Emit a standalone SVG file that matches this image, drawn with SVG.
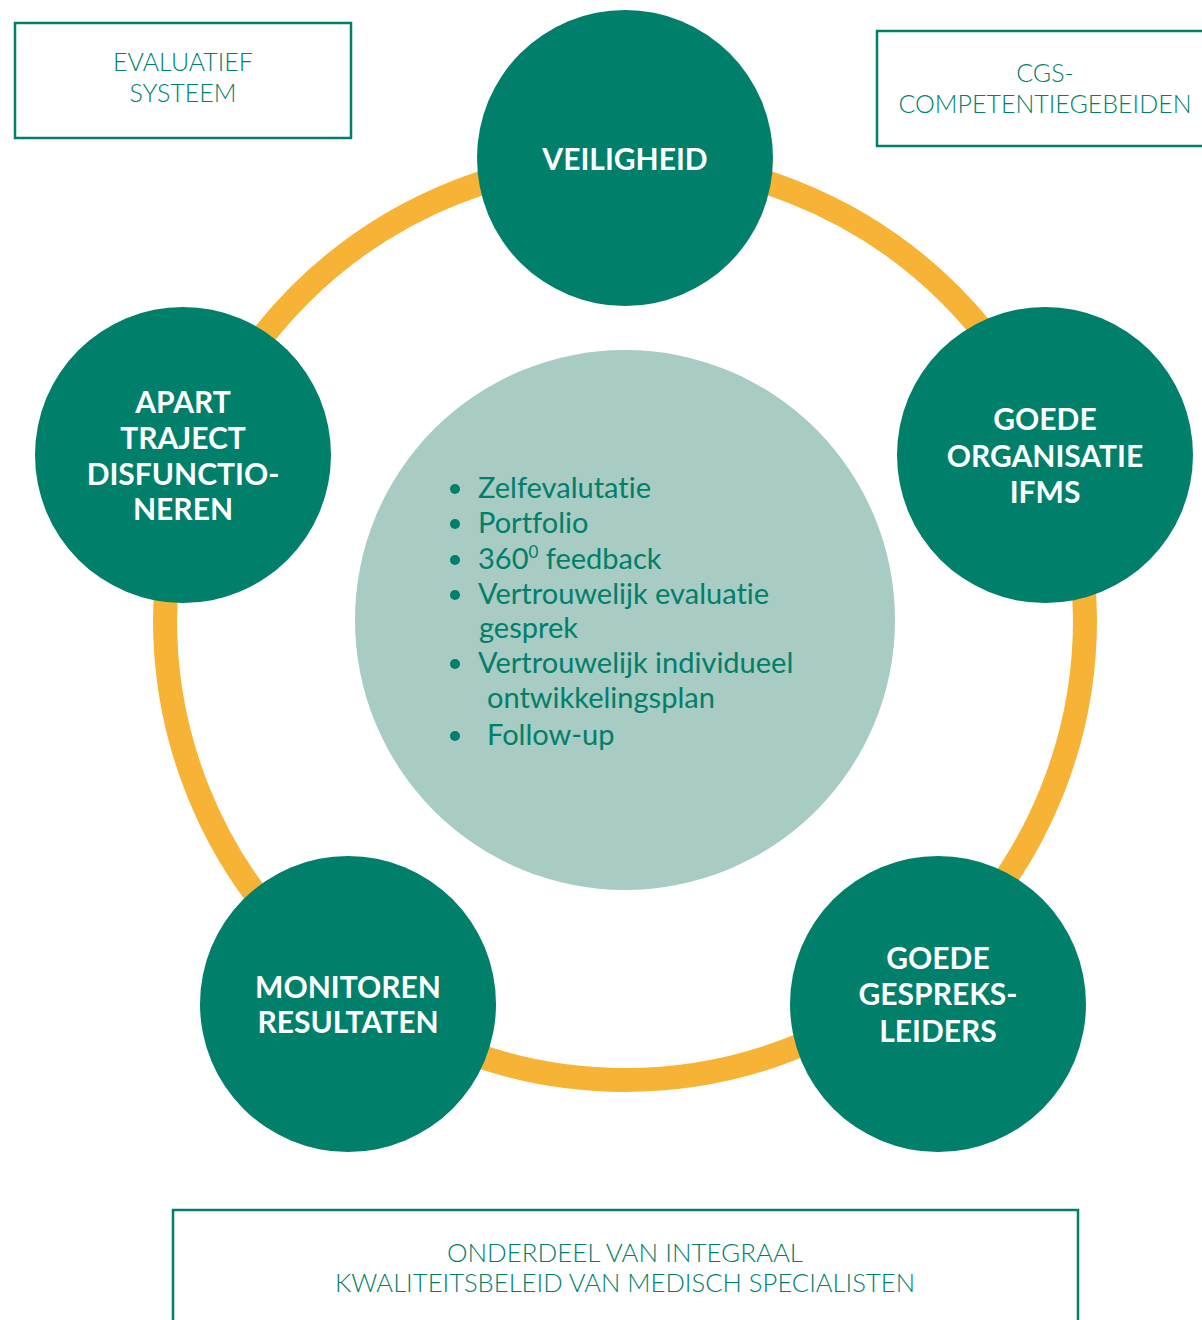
<svg xmlns="http://www.w3.org/2000/svg" width="1202" height="1320" viewBox="0 0 1202 1320">
<style>
.node{fill:#007f6a}
.lbl{font-family:Lato,"Noto Sans","Liberation Sans",sans-serif;font-weight:700;font-size:30px;fill:#ffffff;text-anchor:middle}
.box{fill:#ffffff;stroke:#007f6a;stroke-width:2.5}
.btxt{font-family:Lato,"Noto Sans","Liberation Sans",sans-serif;font-weight:300;font-size:25px;fill:#007f6a;text-anchor:middle}
.list{font-family:Lato,"Noto Sans","Liberation Sans",sans-serif;font-weight:400;font-size:29px;fill:#007f6a;font-variant-ligatures:none}
.dot{fill:#007f6a}
</style>
<rect width="1202" height="1320" fill="#ffffff"/>
<g id="connectors">
<circle cx="625" cy="620" r="460" fill="none" stroke="#f6b335" stroke-width="24"/>
</g>
<g id="center">
<circle cx="625" cy="620" r="270" fill="#a8cbc3"/>
<circle class="dot" cx="455" cy="489" r="5"/>
<circle class="dot" cx="455" cy="524" r="5"/>
<circle class="dot" cx="455" cy="560" r="5"/>
<circle class="dot" cx="455" cy="595" r="5"/>
<circle class="dot" cx="455" cy="664" r="5"/>
<circle class="dot" cx="455" cy="736" r="5"/>
<text class="list" x="478" y="498">Zelfevalutatie</text>
<text class="list" x="478" y="533">Portfolio</text>
<text class="list" x="478" y="569">360<tspan font-size="17" dy="-11">0</tspan><tspan dy="11"> feedback</tspan></text>
<text class="list" x="478" y="604">Vertrouwelijk evaluatie</text>
<text class="list" x="479" y="638">gesprek</text>
<text class="list" x="478" y="673">Vertrouwelijk individueel</text>
<text class="list" x="487" y="708">ontwikkelingsplan</text>
<text class="list" x="487" y="745">Follow-up</text>
</g>
<g id="node-veiligheid">
<circle class="node" cx="625" cy="158" r="148"/>
<text class="lbl" x="625" y="170">VEILIGHEID</text>
</g>
<g id="node-organisatie">
<circle class="node" cx="1045" cy="455" r="148"/>
<text class="lbl" x="1045" y="430">GOEDE</text>
<text class="lbl" x="1045" y="467">ORGANISATIE</text>
<text class="lbl" x="1045" y="503">IFMS</text>
</g>
<g id="node-gespreksleiders">
<circle class="node" cx="938" cy="1004" r="148"/>
<text class="lbl" x="938" y="969">GOEDE</text>
<text class="lbl" x="938" y="1005">GESPREKS-</text>
<text class="lbl" x="938" y="1042">LEIDERS</text>
</g>
<g id="node-monitoren">
<circle class="node" cx="348" cy="1004" r="148"/>
<text class="lbl" x="348" y="998">MONITOREN</text>
<text class="lbl" x="348" y="1033">RESULTATEN</text>
</g>
<g id="node-apart">
<circle class="node" cx="183" cy="455" r="148"/>
<text class="lbl" x="183" y="413">APART</text>
<text class="lbl" x="183" y="449">TRAJECT</text>
<text class="lbl" x="183" y="485">DISFUNCTIO-</text>
<text class="lbl" x="183" y="520">NEREN</text>
</g>
<g id="box-evaluatief">
<rect class="box" x="15" y="23" width="336" height="115"/>
<text class="btxt" x="183" y="71">EVALUATIEF</text>
<text class="btxt" x="183" y="102">SYSTEEM</text>
</g>
<g id="box-cgs">
<rect class="box" x="877" y="31" width="340" height="115"/>
<text class="btxt" x="1045" y="82">CGS-</text>
<text class="btxt" x="1045" y="113">COMPETENTIEGEBEIDEN</text>
</g>
<g id="box-onderdeel">
<rect class="box" x="173" y="1210" width="905" height="130"/>
<text class="btxt" x="625" y="1262" textLength="356" lengthAdjust="spacingAndGlyphs">ONDERDEEL VAN INTEGRAAL</text>
<text class="btxt" x="625" y="1292" textLength="580" lengthAdjust="spacingAndGlyphs">KWALITEITSBELEID VAN MEDISCH SPECIALISTEN</text>
</g>
</svg>
